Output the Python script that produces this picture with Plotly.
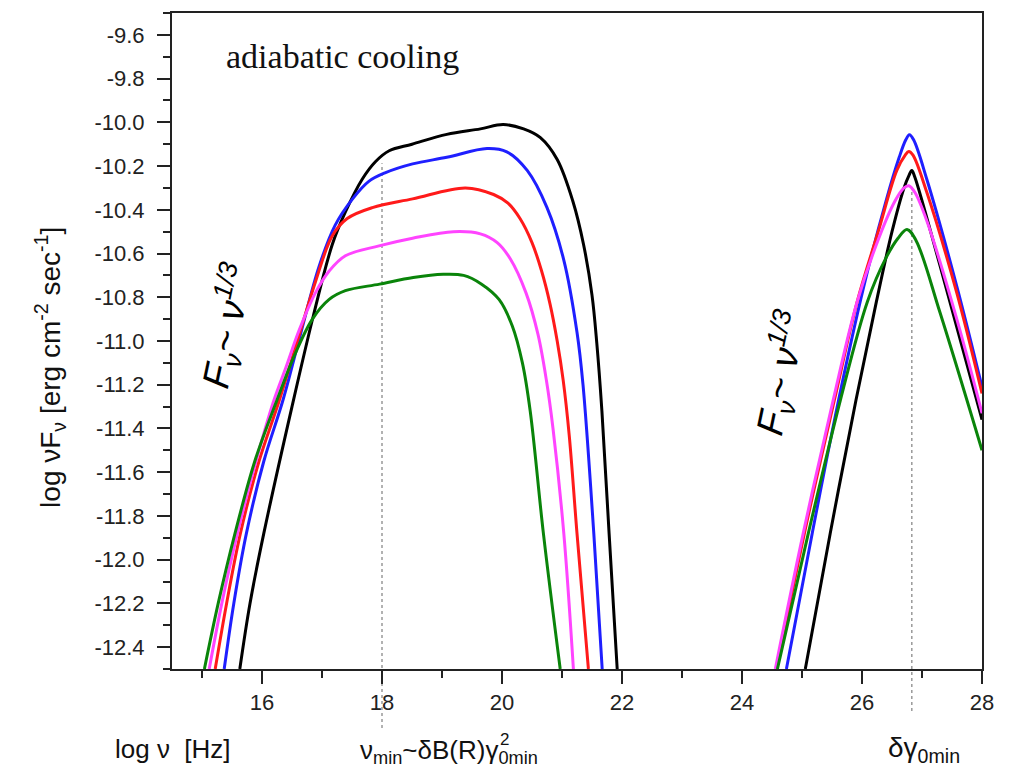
import plotly.graph_objects as go

# ---------------- data ----------------
# synchrotron bump
sync_black_x = [15.63, 15.80, 16.03, 16.50, 16.86, 17.17, 17.39, 17.67, 17.89, 18.12, 18.50, 19.08, 19.64, 20.02, 20.36, 20.64, 20.92, 21.18, 21.36, 21.50, 21.58, 21.665, 21.785, 21.92]
sync_black_y = [-12.50, -12.20, -11.88, -11.30, -10.88, -10.56, -10.41, -10.26, -10.18, -10.13, -10.10, -10.055, -10.03, -10.01, -10.03, -10.07, -10.17, -10.36, -10.56, -10.79, -11.01, -11.32, -11.88, -12.50]

sync_blue_x = [15.37, 15.53, 15.74, 16.03, 16.35, 16.65, 16.95, 17.22, 17.51, 17.78, 18.06, 18.51, 19.08, 19.75, 20.08, 20.42, 20.75, 21.03, 21.25, 21.35, 21.53, 21.67]
sync_blue_y = [-12.50, -12.20, -11.88, -11.55, -11.27, -10.96, -10.66, -10.47, -10.35, -10.27, -10.23, -10.19, -10.16, -10.12, -10.135, -10.22, -10.39, -10.63, -10.96, -11.20, -11.88, -12.50]

sync_red_x = [15.22, 15.41, 15.64, 15.95, 16.29, 16.60, 16.89, 17.17, 17.42, 17.84, 18.51, 19.39, 19.86, 20.10, 20.30, 20.50, 20.66, 20.80, 20.92, 21.02, 21.12, 21.25, 21.44]
sync_red_y = [-12.50, -12.20, -11.88, -11.55, -11.27, -10.99, -10.73, -10.52, -10.44, -10.39, -10.35, -10.30, -10.33, -10.37, -10.44, -10.55, -10.68, -10.83, -11.00, -11.18, -11.43, -11.88, -12.50]

sync_magenta_x = [15.12, 15.33, 15.59, 15.90, 16.20, 16.40, 16.62, 16.89, 17.12, 17.39, 17.95, 18.51, 19.19, 19.64, 19.92, 20.14, 20.40, 20.60, 20.74, 20.85, 21.03, 21.19]
sync_magenta_y = [-12.50, -12.20, -11.88, -11.55, -11.27, -11.12, -10.95, -10.78, -10.68, -10.61, -10.565, -10.53, -10.50, -10.51, -10.55, -10.625, -10.78, -10.97, -11.18, -11.40, -11.88, -12.50]

sync_green_x = [15.04, 15.27, 15.55, 15.88, 16.25, 16.55, 16.84, 17.12, 17.39, 17.96, 18.52, 19.02, 19.36, 19.66, 19.95, 20.17, 20.34, 20.47, 20.69, 20.97]
sync_green_y = [-12.50, -12.20, -11.88, -11.55, -11.27, -11.06, -10.90, -10.81, -10.77, -10.74, -10.71, -10.695, -10.70, -10.74, -10.81, -10.93, -11.10, -11.32, -11.88, -12.50]

# inverse-Compton bump
ic_black_x = [25.055, 25.47, 25.90, 26.24, 26.50, 26.70, 26.78, 26.83, 26.88, 27.305, 28.0]
ic_black_y = [-12.50, -11.88, -11.27, -10.82, -10.50, -10.30, -10.245, -10.22, -10.25, -10.66, -11.36]

ic_blue_x = [24.74, 25.17, 25.61, 26.03, 26.40, 26.62, 26.73, 26.79, 26.86, 27.08, 27.58, 28.0]
ic_blue_y = [-12.50, -11.88, -11.27, -10.75, -10.36, -10.16, -10.08, -10.057, -10.08, -10.26, -10.75, -11.21]

ic_red_x = [24.58, 25.04, 25.54, 25.92, 26.27, 26.58, 26.72, 26.78, 26.85, 27.08, 27.58, 28.0]
ic_red_y = [-12.50, -11.88, -11.27, -10.82, -10.50, -10.22, -10.15, -10.133, -10.15, -10.32, -10.78, -11.24]

ic_magenta_x = [24.555, 25.02, 25.52, 25.92, 26.28, 26.55, 26.70, 26.78, 26.88, 27.08, 27.58, 28.0]
ic_magenta_y = [-12.50, -11.88, -11.27, -10.82, -10.53, -10.36, -10.30, -10.29, -10.32, -10.45, -10.90, -11.33]

ic_green_x = [24.59, 25.105, 25.64, 26.09, 26.40, 26.60, 26.75, 26.90, 27.30, 28.0]
ic_green_y = [-12.50, -11.88, -11.27, -10.82, -10.62, -10.53, -10.49, -10.54, -10.87, -11.50]

x_tick_vals = [16, 18, 20, 22, 24, 26, 28]
x_tick_labels = ["16", "18", "20", "22", "24", "26", "28"]
y_tick_vals = [-12.4, -12.2, -12.0, -11.8, -11.6, -11.4, -11.2, -11.0, -10.8, -10.6, -10.4, -10.2, -10.0, -9.8, -9.6]
y_tick_labels = ["-12.4", "-12.2", "-12.0", "-11.8", "-11.6", "-11.4", "-11.2", "-11.0", "-10.8", "-10.6", "-10.4", "-10.2", "-10.0", "-9.8", "-9.6"]

marker_lines_x = [18.0, 26.83]

# ---------------- figure ----------------
series = [
    ("#000000", sync_black_x, sync_black_y, ic_black_x, ic_black_y),
    ("#1f1fff", sync_blue_x, sync_blue_y, ic_blue_x, ic_blue_y),
    ("#ff1a1a", sync_red_x, sync_red_y, ic_red_x, ic_red_y),
    ("#ff44ff", sync_magenta_x, sync_magenta_y, ic_magenta_x, ic_magenta_y),
    ("#0a840a", sync_green_x, sync_green_y, ic_green_x, ic_green_y),
]

fig = go.Figure()
for color, sx, sy, cx, cy in series:
    for xx, yy in ((sx, sy), (cx, cy)):
        fig.add_trace(go.Scatter(x=xx, y=yy, mode="lines",
                                 line=dict(color=color, width=3, shape="spline", smoothing=1.0),
                                 showlegend=False, hoverinfo="skip"))

# dotted marker lines (extend below the axis)
fig.add_shape(type="line", xref="x", yref="paper", x0=marker_lines_x[0], x1=marker_lines_x[0],
              y0=-0.09, y1=0.771, line=dict(color="#999999", width=1.5, dash="dot"), layer="below")
fig.add_shape(type="line", xref="x", yref="paper", x0=marker_lines_x[1], x1=marker_lines_x[1],
              y0=-0.064, y1=0.733, line=dict(color="#999999", width=1.5, dash="dot"), layer="below")

tickfont = dict(family="Liberation Sans, Arial, sans-serif", size=22, color="#222222")
axis_common = dict(showline=True, linecolor="#222222", linewidth=2, mirror=True,
                   ticks="outside", ticklen=13, tickwidth=1.5, tickcolor="#222222",
                   showgrid=False, zeroline=False, tickfont=tickfont)

fig.update_xaxes(range=[14.5, 28], tickmode="array", tickvals=x_tick_vals, ticktext=x_tick_labels,
                 minor=dict(ticks="outside", ticklen=7, tickwidth=1.5, tickcolor="#222222", dtick=1, tick0=15),
                 **axis_common)
fig.update_yaxes(range=[-12.5, -9.5], tickmode="array", tickvals=y_tick_vals, ticktext=y_tick_labels,
                 minor=dict(ticks="outside", ticklen=7, tickwidth=1.5, tickcolor="#222222", dtick=0.1, tick0=-12.5),
                 ticklabelstandoff=8, **axis_common)

sans = "Liberation Sans, Arial, sans-serif"
dark = "#111111"
annotations = [
    dict(text="adiabatic cooling", x=0.21, y=0.933, xanchor="center",
         font=dict(family="Liberation Serif, Times New Roman, serif", size=34, color=dark)),
    dict(text="log νF<sub>ν</sub> [erg cm<sup>-2</sup> sec<sup>-1</sup>]", x=-0.1506, y=0.459, textangle=-90,
         xanchor="center", font=dict(family=sans, size=28, color=dark)),
    dict(text="log ν  [Hz]", x=0.001, y=-0.1216, xanchor="center", font=dict(family=sans, size=26, color=dark)),
    dict(text="ν<sub>min</sub>~δB(R)γ<sub>0min</sub>", x=0.2296, y=-0.126, xanchor="left",
         font=dict(family=sans, size=26, color=dark)),
    dict(text="2", x=0.4105, y=-0.107, xanchor="center", font=dict(family=sans, size=17, color=dark)),
    dict(text="δγ<sub>0min</sub>", x=0.928, y=-0.123, xanchor="center", font=dict(family=sans, size=28, color=dark)),
    dict(text="<i>F<sub>ν</sub>~ ν<sup>1/3</sup></i>", x=0.069, y=0.523, textangle=-78, xanchor="center",
         font=dict(family=sans, size=38, color="#000000")),
    dict(text="<i>F<sub>ν</sub>~ ν<sup>1/3</sup></i>", x=0.753, y=0.451, textangle=-78, xanchor="center",
         font=dict(family=sans, size=38, color="#000000")),
]
for a in annotations:
    a.update(xref="paper", yref="paper", showarrow=False, yanchor="middle")

fig.update_layout(width=1009, height=781, margin=dict(l=172, r=27, t=11, b=112),
                  paper_bgcolor="white", plot_bgcolor="white", annotations=annotations)

fig.write_html("out.html")
